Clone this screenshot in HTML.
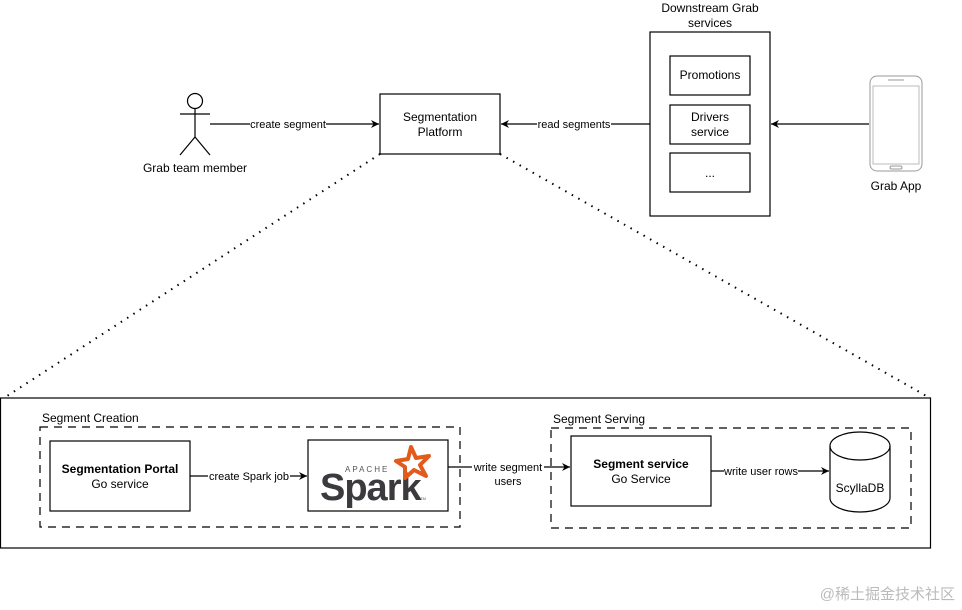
<!DOCTYPE html>
<html><head><meta charset="utf-8"><style>
html,body{margin:0;padding:0;background:#fff;}
svg{display:block;font-family:"Liberation Sans",Arial,sans-serif;}
</style></head><body>
<svg width="962" height="610" viewBox="0 0 962 610" xmlns="http://www.w3.org/2000/svg">
<defs>
<marker id="a" markerWidth="10" markerHeight="10" refX="9" refY="5" orient="auto" markerUnits="userSpaceOnUse">
<path d="M1,1 L9,5 L1,9 L3.5,5 Z" fill="#000"/>
</marker>
</defs>
<g fill="none" stroke="#000" stroke-width="1.2">
<!-- stick figure -->
<circle cx="195" cy="101" r="7.5"/>
<line x1="195" y1="108.5" x2="195" y2="137"/>
<line x1="180" y1="114" x2="210" y2="114"/>
<line x1="195" y1="137" x2="180" y2="155"/>
<line x1="195" y1="137" x2="210" y2="155"/>
<rect x="380" y="94" width="120" height="60"/>
<rect x="650" y="32" width="120" height="184"/>
<rect x="670" y="56" width="80" height="39"/>
<rect x="670" y="105" width="80" height="39"/>
<rect x="670" y="153" width="80" height="39"/>
<line x1="210" y1="124" x2="379" y2="124" marker-end="url(#a)"/>
<line x1="650" y1="124" x2="501" y2="124" marker-end="url(#a)"/>
<line x1="869" y1="124" x2="771" y2="124" marker-end="url(#a)"/>
<line x1="380" y1="154" x2="4" y2="398" stroke-dasharray="1.5 6" stroke-width="2"/>
<line x1="500" y1="154" x2="930" y2="398" stroke-dasharray="1.5 6" stroke-width="2"/>
<rect x="0.5" y="398" width="930" height="150"/>
<rect x="40" y="427" width="420" height="100" stroke-dasharray="8 6"/>
<rect x="551" y="428" width="360" height="100" stroke-dasharray="8 6"/>
<rect x="50" y="441" width="140" height="70"/>
<rect x="308" y="440" width="140" height="71"/>
<rect x="571" y="436" width="140" height="70"/>
<line x1="190" y1="476" x2="307" y2="476" marker-end="url(#a)"/>
<line x1="448" y1="467" x2="570" y2="467" marker-end="url(#a)"/>
<line x1="711" y1="471" x2="829" y2="471" marker-end="url(#a)"/>
<path d="M830,446 A30,14 0 0 1 890,446 L890,498 A30,14 0 0 1 830,498 Z"/>
<path d="M830,446 A30,14 0 0 0 890,446"/>
</g>
<!-- phone -->
<g fill="none" stroke="#999" stroke-width="1">
<rect x="870" y="76" width="52" height="95" rx="7"/>
<rect x="873" y="86" width="46" height="78" stroke="#bbb"/>
<rect x="890" y="166" width="12" height="3" rx="1.5"/>
<line x1="888" y1="80" x2="904" y2="80"/>
</g>
<g font-size="12" fill="#000" text-anchor="middle">
<rect x="250" y="117" width="76" height="14" fill="#fff"/>
<text x="288" y="128" font-size="11">create segment</text>
<rect x="537" y="117" width="74" height="14" fill="#fff"/>
<text x="574" y="128" font-size="11">read segments</text>
<text x="195" y="172">Grab team member</text>
<text x="440" y="121">Segmentation</text>
<text x="440" y="136">Platform</text>
<text x="710" y="12">Downstream Grab</text>
<text x="710" y="27">services</text>
<text x="710" y="79">Promotions</text>
<text x="710" y="121">Drivers</text>
<text x="710" y="136">service</text>
<text x="710" y="177">...</text>
<text x="896" y="190">Grab App</text>
<text x="42" y="422" text-anchor="start">Segment Creation</text>
<text x="553" y="423" text-anchor="start">Segment Serving</text>
<text x="120" y="473" font-weight="bold">Segmentation Portal</text>
<text x="120" y="488">Go service</text>
<text x="641" y="468" font-weight="bold">Segment service</text>
<text x="641" y="483">Go Service</text>
<rect x="208" y="469" width="82" height="14" fill="#fff"/>
<text x="249" y="480" font-size="11">create Spark job</text>
<rect x="472" y="460" width="72" height="14" fill="#fff"/>
<text x="508" y="471" font-size="11">write segment</text>
<text x="508" y="485" font-size="11">users</text>
<rect x="724" y="464" width="74" height="14" fill="#fff"/>
<text x="761" y="475" font-size="11">write user rows</text>
<text x="860" y="492">ScyllaDB</text>
</g>
<!-- Spark logo -->
<text x="345" y="472" font-size="8" letter-spacing="2" fill="#555">APACHE</text>
<text x="320" y="500" font-size="38" font-weight="bold" fill="#3c3a3e" letter-spacing="-1">Spark</text>
<text x="420" y="500" font-size="4" fill="#555">TM</text>
<path d="M411,447 L416,458 L429,456 L420,465 L426,476 L414,470 L405,478 L405,467 L396,461 L408,459 Z" fill="none" stroke="#e25a1c" stroke-width="4" stroke-linejoin="round"/>
<text x="955" y="599" text-anchor="end" font-size="15" fill="#bbb" font-family="'Liberation Sans','Noto Sans CJK SC',sans-serif">@稀土掘金技术社区</text>
</svg>
</body></html>
